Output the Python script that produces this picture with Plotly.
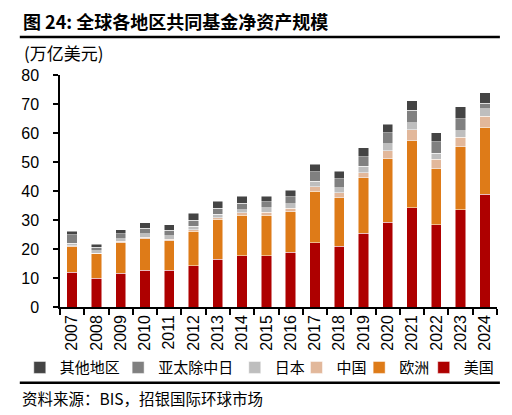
import plotly.graph_objects as go

# 数据（万亿美元）
years = [str(y) for y in range(2007, 2025)]
us = [12.0, 10.0, 11.7, 12.7, 12.6, 14.3, 16.5, 17.7, 17.6, 18.8,
      22.1, 21.0, 25.5, 29.3, 34.2, 28.4, 33.6, 38.8]
europe = [8.7, 8.3, 10.4, 10.8, 10.3, 11.9, 13.8, 13.9, 14.0, 14.1,
          17.8, 16.6, 19.0, 21.8, 23.2, 19.3, 21.6, 23.1]
china = [0.5, 0.3, 0.5, 0.5, 0.5, 0.5, 0.4, 0.9, 1.1, 1.1,
         1.6, 1.8, 1.8, 2.7, 3.7, 3.2, 3.3, 3.9]
japan = [0.8, 0.8, 0.9, 1.3, 1.1, 1.2, 1.3, 1.1, 1.5, 1.6,
         1.9, 1.8, 2.2, 2.5, 2.5, 2.2, 2.2, 2.5]
asia_ex = [3.0, 1.2, 1.7, 1.9, 2.0, 2.0, 2.1, 2.2, 2.1, 2.4,
           3.2, 3.0, 3.3, 3.8, 4.2, 3.9, 4.3, 1.9]
other = [1.1, 1.1, 1.4, 1.9, 1.8, 2.5, 2.3, 2.4, 1.9, 2.3,
         2.7, 2.6, 3.1, 3.0, 3.3, 3.1, 4.0, 3.7]

names = ['美国', '欧洲', '中国', '日本', '亚太除中日', '其他地区']
colors = ['#AE0000', '#DE7B18', '#E2B89B', '#BEBEBE', '#808080', '#444444']
values = [us, europe, china, japan, asia_ex, other]
# 图例文字起点（页面像素）
legend_text_x = [462, 395, 330, 266, 145, 43]

FONT = 'Noto Sans CJK SC, Arial, sans-serif'

# 页面像素 -> paper 坐标（页面 body 有 8px 边距）
X0, X1, Y0, Y1 = 46.7, 500.0, 306.7, 75.0

def px(x):
    return (x - X0) / (X1 - X0)

def py(y):
    return (Y0 - y) / (Y0 - Y1)

W, H = 504, 407

fig = go.Figure()
for i, (name, vals, color) in enumerate(zip(names, values, colors)):
    fig.add_trace(go.Bar(
        x=years, y=vals, name=name,
        legend='legend' if i == 0 else f'legend{i + 1}',
        marker=dict(color=color, line=dict(color='rgba(255,255,255,0.7)', width=0.7)),
    ))

layout_legends = {}
for i, tx in enumerate(legend_text_x):
    key = 'legend' if i == 0 else f'legend{i + 1}'
    layout_legends[key] = dict(
        orientation='h', x=px(tx - 38), y=py(367.3),
        xanchor='left', yanchor='middle',
        font=dict(size=15, family=FONT), bgcolor='rgba(0,0,0,0)',
    )

fig.update_layout(
    width=W, height=H,
    margin=dict(l=X0 - 8, r=W - (X1 - 8), t=Y1 - 8, b=H - (Y0 - 8)),
    barmode='stack', bargap=0.575,
    plot_bgcolor='white', paper_bgcolor='white',
    font=dict(family=FONT, color='black'),
    showlegend=True,
    xaxis=dict(
        type='category', tickangle=-90,
        tickson='boundaries', ticks='outside', ticklen=6, tickcolor='black',
        showline=True, linecolor='black', linewidth=1.5, tickwidth=1.5,
        tickfont=dict(size=16, family='Arial'),
        showgrid=False,
    ),
    yaxis=dict(
        range=[0, 80], dtick=10, ticks='outside', ticklen=5, tickcolor='black',
        showline=True, linecolor='black', linewidth=1.5, tickwidth=1.5,
        tickfont=dict(size=16, family='Arial'), ticklabelstandoff=11,
        showgrid=False, zeroline=False,
    ),
    **layout_legends,
)

fig.add_annotation(
    text='<b>图 24: 全球各地区共同基金净资产规模</b>',
    xref='paper', yref='paper', x=px(6), y=py(21),
    xanchor='left', yanchor='middle', showarrow=False,
    font=dict(size=18, family=FONT),
)
fig.add_annotation(
    text='(万亿美元)',
    xref='paper', yref='paper', x=px(7), y=py(53),
    xanchor='left', yanchor='middle', showarrow=False,
    font=dict(size=17, family=FONT),
)
fig.add_annotation(
    text='资料来源：BIS，招银国际环球市场',
    xref='paper', yref='paper', x=px(5), y=py(398),
    xanchor='left', yanchor='middle', showarrow=False,
    font=dict(size=15.5, family=FONT),
)

for yy in (37, 382.3):
    fig.add_shape(
        type='line', xref='paper', yref='paper',
        x0=px(5), x1=px(503), y0=py(yy), y1=py(yy),
        line=dict(color='black', width=2.5),
    )

fig.write_html('out.html')
